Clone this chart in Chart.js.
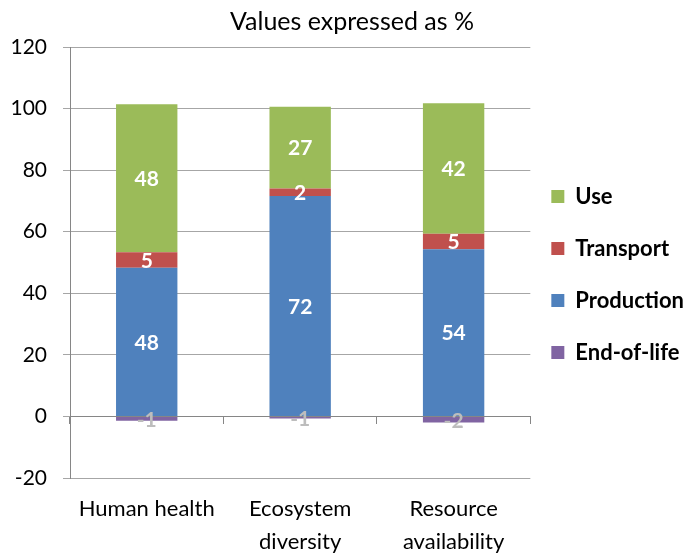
<!DOCTYPE html>
<html>
<head>
<meta charset="utf-8">
<script src="https://cdn.jsdelivr.net/npm/chart.js@4.4.1/dist/chart.umd.min.js"></script>
<style>
  body { margin: 0; background: #fff; }
</style>
</head>
<body>
<canvas id="chart_impact" width="683" height="560"></canvas>
<script>
// categories and stacked values (percent)
var categories = [['Human health'], ['Ecosystem', 'diversity'], ['Resource', 'availability']];
var end_of_life = [-1.4, -0.7, -2.0];
var production = [48.3, 71.6, 54.3];
var transport = [5.0, 2.4, 5.0];
var use = [48.1, 26.6, 42.4];

var y_min = -20;
var y_max = 120;
var y_step = 20;

var font_family = 'Lato';

// writes the rounded value in the middle of each bar segment
var bar_labels = {
  id: 'bar_labels',
  afterDatasetsDraw: function(chart) {
    var ctx = chart.ctx;
    ctx.save();
    ctx.font = 'bold 21px ' + font_family;
    ctx.textAlign = 'center';
    ctx.textBaseline = 'middle';
    chart.data.datasets.forEach(function(ds, i) {
      var meta = chart.getDatasetMeta(i);
      meta.data.forEach(function(bar, j) {
        ctx.fillStyle = ds.labelColor;
        ctx.fillText(Math.round(ds.data[j]), bar.x, (bar.y + bar.base) / 2 + 1);
      });
    });
    ctx.restore();
  }
};

var config_impact = {
  type: 'bar',
  data: {
    labels: categories,
    datasets: [
      {
        label: 'End-of-life',
        data: end_of_life,
        backgroundColor: '#8064A2',
        labelColor: '#bdbdbd',
      },
      {
        label: 'Production',
        data: production,
        backgroundColor: '#4F81BD',
        labelColor: '#fff',
      },
      {
        label: 'Transport',
        data: transport,
        backgroundColor: '#C0504D',
        labelColor: '#fff',
      },
      {
        label: 'Use',
        data: use,
        backgroundColor: '#9BBB59',
        labelColor: '#fff',
      }
    ],
  },
  options: {
    responsive: false,
    animation: false,
    barPercentage: 0.4,
    categoryPercentage: 1,
    layout: {
      padding: { left: 10, right: -11, top: 0, bottom: 2 },
    },
    scales: {
      x: {
        stacked: true,
        grid: {
          display: false,
          drawTicks: false,
        },
        border: {
          display: false,
        },
        ticks: {
          color: '#000',
          padding: 14,
          font: { family: font_family, size: 22, lineHeight: 1.5 },
        },
        afterFit: function(scale) {
          scale.height = 80;
        },
      },
      // zero line with the small category ticks under it
      x_zero: {
        type: 'category',
        position: { y: 0 },
        offset: true,
        grid: {
          offset: true,
          drawOnChartArea: false,
          drawTicks: true,
          tickLength: 7,
          color: '#868686',
        },
        border: {
          display: true,
          color: '#868686',
        },
        ticks: {
          display: false,
        },
      },
      y: {
        stacked: true,
        min: y_min,
        max: y_max,
        grid: {
          color: '#a6a6a6',
          tickLength: 7,
        },
        border: {
          color: '#868686',
        },
        ticks: {
          stepSize: y_step,
          color: '#000',
          padding: 16,
          font: { family: font_family, size: 21 },
        },
        afterFit: function(scale) {
          scale.width = 60;
        },
      },
    },
    plugins: {
      title: {
        display: true,
        text: 'Values expressed as %',
        color: '#000',
        font: { family: font_family, size: 25, weight: 'normal' },
        padding: { top: 7, bottom: 10 },
      },
      legend: {
        position: 'right',
        reverse: true,
        labels: {
          color: '#000',
          boxWidth: 13,
          boxHeight: 13,
          padding: 21,
          font: { family: font_family, size: 22, weight: 'bold', lineHeight: 31 / 22 },
          generateLabels: function(chart) {
            var items = Chart.defaults.plugins.legend.labels.generateLabels(chart);
            return items.map(function(item) {
              item.text = [item.text];
              return item;
            });
          },
        },
      },
      tooltip: {
        enabled: false,
      },
    },
  },
  plugins: [bar_labels],
};

var chart_impact = new Chart(document.getElementById('chart_impact'), config_impact);
</script>
</body>
</html>
